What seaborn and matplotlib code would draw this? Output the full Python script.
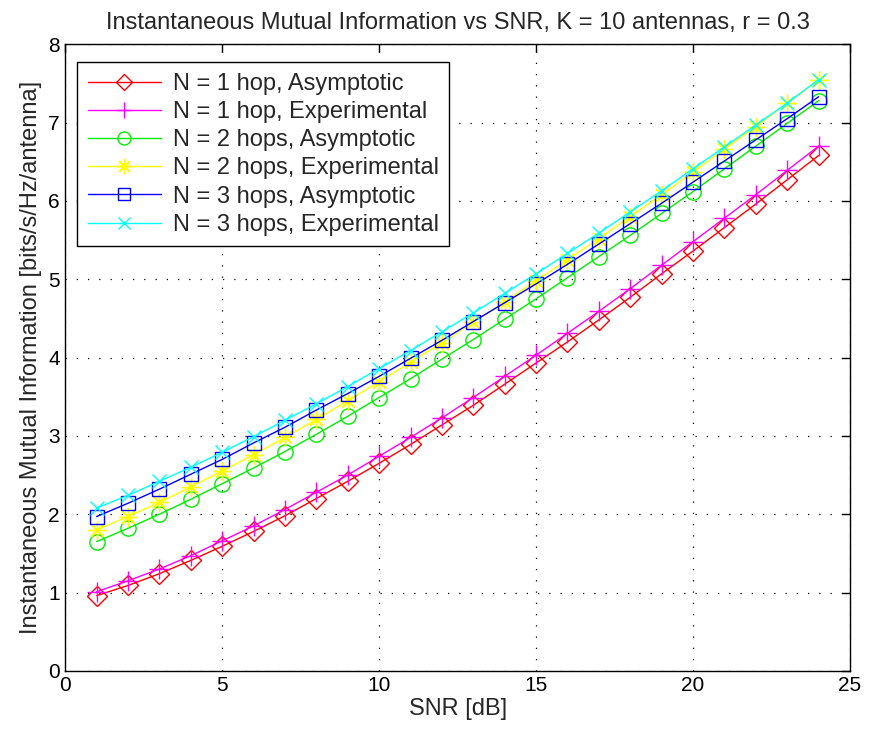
import numpy as np
import pandas as pd
import matplotlib
matplotlib.use("Agg")
import matplotlib.pyplot as plt
import seaborn as sns

# SNR axis [dB]
snr = list(range(1, 25))

# values
n1_asym = [0.96, 1.09, 1.24, 1.41, 1.59, 1.78, 1.98, 2.20, 2.42, 2.65, 2.89, 3.14,
           3.39, 3.66, 3.93, 4.20, 4.48, 4.77, 5.07, 5.36, 5.66, 5.96, 6.27, 6.58]
n1_exp = [1.01, 1.15, 1.30, 1.47, 1.66, 1.85, 2.06, 2.28, 2.50, 2.74, 2.98, 3.23,
          3.49, 3.76, 4.03, 4.31, 4.59, 4.88, 5.18, 5.48, 5.78, 6.08, 6.39, 6.70]
n2_asym = [1.65, 1.82, 2.00, 2.19, 2.39, 2.59, 2.80, 3.02, 3.25, 3.49, 3.73, 3.98,
           4.23, 4.49, 4.75, 5.02, 5.29, 5.56, 5.84, 6.12, 6.41, 6.70, 6.99, 7.28]
n2_exp = [1.80, 1.97, 2.15, 2.35, 2.55, 2.76, 2.98, 3.21, 3.45, 3.69, 3.94, 4.19,
          4.45, 4.71, 4.98, 5.25, 5.52, 5.80, 6.08, 6.37, 6.66, 6.95, 7.25, 7.54]
n3_asym = [1.97, 2.14, 2.32, 2.51, 2.70, 2.91, 3.11, 3.33, 3.54, 3.76, 3.99, 4.22,
           4.46, 4.70, 4.94, 5.19, 5.45, 5.71, 5.97, 6.24, 6.51, 6.78, 7.05, 7.33]
n3_exp = [2.08, 2.24, 2.42, 2.60, 2.79, 2.99, 3.20, 3.41, 3.63, 3.86, 4.09, 4.33,
          4.57, 4.82, 5.07, 5.33, 5.59, 5.86, 6.13, 6.41, 6.69, 6.97, 7.25, 7.55]

labels = ["N = 1 hop, Asymptotic", "N = 1 hop, Experimental",
          "N = 2 hops, Asymptotic", "N = 2 hops, Experimental",
          "N = 3 hops, Asymptotic", "N = 3 hops, Experimental"]
series = [n1_asym, n1_exp, n2_asym, n2_exp, n3_asym, n3_exp]
colors = ["#ff0000", "#ff00ff", "#00ee00", "#ffff00", "#0000ff", "#00ffff"]
markers = ["D", "+", "o", (8, 2, 0), "s", "x"]
msizes = [10, 14, 11, 13, 10, 10]

sns.set_theme(style="white")
plt.rcParams["font.family"] = ["Liberation Sans", "DejaVu Sans"]

fig = plt.figure(figsize=(8.7, 7.38), dpi=100)
ax = fig.add_axes([0.075, 0.091, 0.902, 0.849])

for lab, vals, c, m, ms in zip(labels, series, colors, markers, msizes):
    df = pd.DataFrame({"snr": snr, "mi": vals})
    sns.lineplot(data=df, x="snr", y="mi", ax=ax, color=c, marker=m,
                 mec=c, mfc="none", mew=1.0, ms=ms, lw=1.0, label=lab)

ax.set_xlim(0, 25)
ax.set_ylim(0, 8)
ax.set_xticks(np.arange(0, 26, 5))
ax.set_yticks(np.arange(0, 9, 1))
ax.grid(True, linestyle=(0, (1, 8)), color="black", linewidth=0.9)
ax.tick_params(direction="in", length=6, width=1, top=True, right=True,
               labelsize=15, colors="black", pad=4)
for sp in ax.spines.values():
    sp.set_color("black")
    sp.set_linewidth(1.0)

ax.set_xlabel("SNR [dB]", fontsize=17, labelpad=2)
ax.set_ylabel("Instantaneous Mutual Information [bits/s/Hz/antenna]", fontsize=17,
              labelpad=4)
ax.set_title("Instantaneous Mutual Information vs SNR, K = 10 antennas, r = 0.3",
             fontsize=17, pad=11)

leg = ax.legend(loc="upper left", bbox_to_anchor=(0.015, 0.971), borderaxespad=0,
                fontsize=17, handlelength=3.1, labelspacing=0.26,
                fancybox=False, framealpha=1, edgecolor="black",
                handletextpad=0.5, borderpad=0.45, markerscale=0.85)
leg.get_frame().set_linewidth(1.0)

fig.savefig("out.png", dpi=100)
